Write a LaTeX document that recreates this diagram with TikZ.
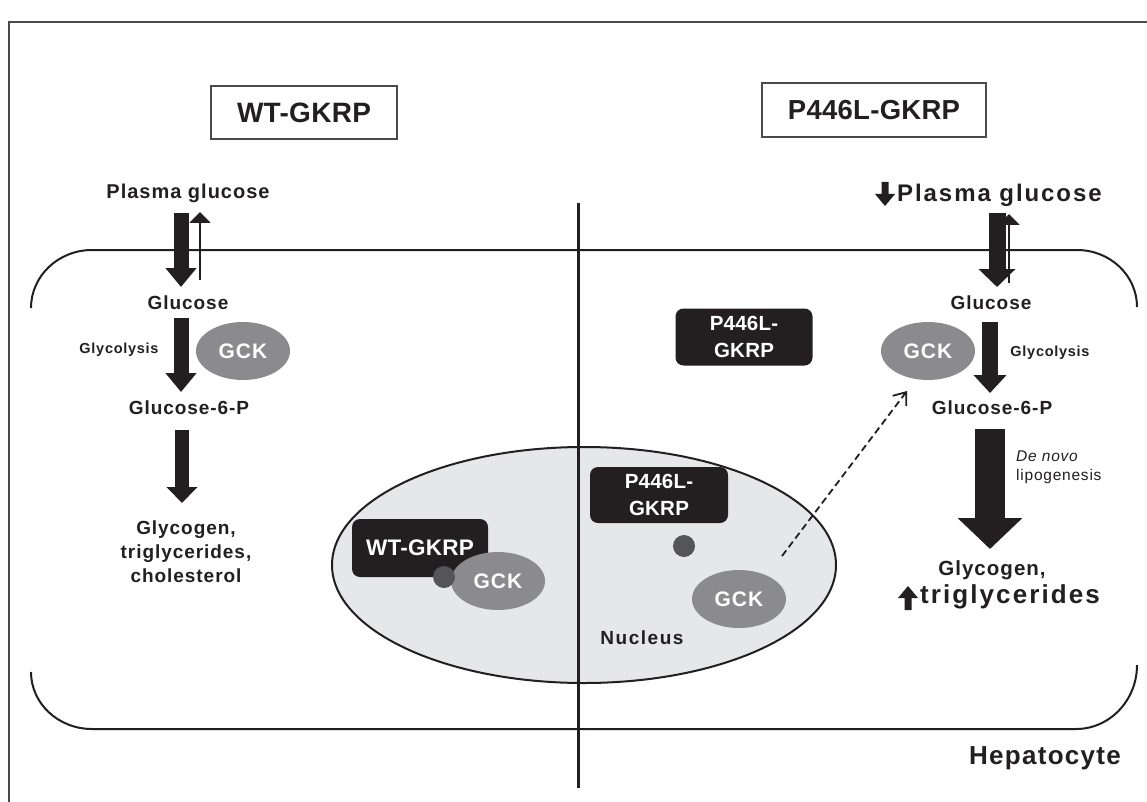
\documentclass[tikz,border=0pt]{standalone}
\usepackage{fontspec}
\setmainfont{Liberation Sans}[LetterSpace=5]
\newfontfamily\tightfont{Liberation Sans}[LetterSpace=1]
\newfontfamily\widefont{Liberation Sans}[LetterSpace=8]
\usetikzlibrary{arrows.meta,shapes.geometric}
\newcommand{\fsz}[2]{\fontsize{#1}{#2}\selectfont}
\definecolor{ink}{HTML}{231F20}
\definecolor{gckgray}{HTML}{8B8B8D}
\definecolor{dotgray}{HTML}{555557}
\definecolor{nucfill}{HTML}{E6E7E8}
\definecolor{framegray}{HTML}{4A4A4A}
\tikzset{
  lbl/.style={text=ink, inner sep=0pt, font=\fsz{19}{24}\bfseries},
  small/.style={text=ink, inner sep=0pt, font=\fsz{14.5}{16}\bfseries},
  gckshape/.style={ellipse, fill=gckgray, minimum width=94pt, minimum height=58pt, inner sep=0pt, text=white, font=\fsz{21}{22}\bfseries},
  blackbox/.style={fill=ink, rounded corners=8pt, minimum width=137pt, minimum height=57pt, inner sep=0pt, text=white, align=center, font=\tightfont\fsz{20.5}{27}\bfseries},
  titlebox/.style={draw=framegray, line width=1.5pt, inner sep=0pt, text=ink, font=\tightfont\fsz{28}{30}\bfseries},
  dotshape/.style={circle, fill=dotgray, minimum size=22pt, inner sep=0pt},
  membrane/.style={draw=ink, line width=2pt},
  fatarrow/.style={draw=ink, line width=#1},
  thinup/.style={draw=ink, line width=2pt, -{Triangle[length=11pt,width=21pt]}},
}
\begin{document}
\begin{tikzpicture}[x=1pt,y=-1pt]
\useasboundingbox (0,0) rectangle (1147,802);
\fill[white] (0,0) rectangle (1147,802);
% frame
\draw[framegray, line width=1.5pt] (9,802) -- (9,22) -- (1147,22);
% title boxes
\node[titlebox, minimum width=186pt, minimum height=53pt] (wt) at (304,112.5) {WT-GKRP};
\node[titlebox, minimum width=224pt, minimum height=54pt, font=\tightfont\fsz{27.5}{30}\bfseries] (mut) at (874,110) {P446L-GKRP};
% membrane
\draw[membrane] (31,308) arc[start angle=180,end angle=270,x radius=61,y radius=58] -- (1077,250) arc[start angle=270,end angle=360,x radius=60,y radius=57];
\draw[membrane] (31,672) arc[start angle=180,end angle=90,x radius=61,y radius=57] -- (1076,729) arc[start angle=90,end angle=0,x radius=61,y radius=64];
% nucleus
\node[ellipse, draw=ink, line width=2pt, fill=nucfill, minimum width=504pt, minimum height=236pt, inner sep=0pt] (nuc) at (584,565) {};
% divider
\coordinate (divtop) at (578,203);
\coordinate (divbot) at (578,788);
\draw[ink, line width=3pt] (divtop) -- (divbot);

% ---------- left column ----------
\node[lbl, font=\fsz{20}{24}\bfseries] (pgL) at (188,193) {Plasma glucose};
\node[lbl] (glucL) at (188,303) {Glucose};
\node[small] (glycL) at (119,350) {Glycolysis};
\node[gckshape] (gckL) at (243,351) {GCK};
\node[lbl] (g6pL) at (189,408) {Glucose-6-P};
\node[lbl, align=center, font=\fsz{19}{24}\bfseries] (prodL) at (186,552) {Glycogen,\\triglycerides,\\cholesterol};

\coordinate (a1s) at (181,213); \coordinate (a1e) at (181,287);
\draw[fatarrow=15pt, -{Triangle[length=19pt,width=30pt]}] (a1s) -- (a1e);
\coordinate (u1s) at (200,280); \coordinate (u1e) at (200,212);
\draw[thinup] (u1s) -- (u1e);
\coordinate (a2s) at (181,318); \coordinate (a2e) at (181,392);
\draw[fatarrow=15pt, -{Triangle[length=19pt,width=30pt]}] (a2s) -- (a2e);
\coordinate (a3s) at (182,430); \coordinate (a3e) at (182,503);
\draw[fatarrow=14pt, -{Triangle[length=16pt,width=30pt]}] (a3s) -- (a3e);

% ---------- nucleus contents ----------
\node[blackbox, minimum width=136pt, minimum height=58pt, font=\tightfont\fsz{22.5}{24}\bfseries] (wtn) at (420,548) {WT-GKRP};
\node[gckshape] (gckN1) at (498,581) {GCK};
\node[dotshape] (dot1) at (444,577) {};
\node[blackbox, minimum width=138pt, minimum height=56pt] (mutn) at (659,495) {P446L-\\GKRP};
\node[dotshape] (dot2) at (684,546) {};
\node[gckshape] (gckN2) at (739,599) {GCK};
\node[lbl, font=\widefont\fsz{19}{20}\bfseries] (nuclbl) at (642,638) {Nucleus};

% ---------- right column ----------
\node[blackbox] (mutc) at (744,337) {P446L-\\GKRP};
\node[lbl, font=\widefont\fsz{24}{26}\bfseries, anchor=west] (pgR) at (897,195) {Plasma glucose};
\fill[ink] (881.5,182) -- (888.5,182) -- (888.5,194) -- (895,194) -- (885,206) -- (875,194) -- (881.5,194) -- cycle;
\node[lbl] (glucR) at (991,303) {Glucose};
\node[small] (glycR) at (1050,353) {Glycolysis};
\node[gckshape] (gckR) at (928,351) {GCK};
\node[lbl] (g6pR) at (992,408) {Glucose-6-P};
\node[text=ink, inner sep=0pt, anchor=west, align=left, font=\fsz{15.5}{19}] (dn) at (1016,467) {\itshape De novo\\lipogenesis};
\node[lbl, font=\fsz{20.5}{24}\bfseries] (glyR) at (992,570) {Glycogen,};
\node[lbl, font=\widefont\fsz{26}{28}\bfseries, anchor=west] (trigR) at (920,597) {triglycerides};
\fill[ink] (904.5,610) -- (911.5,610) -- (911.5,598) -- (918,598) -- (908,586) -- (898,598) -- (904.5,598) -- cycle;

\coordinate (b1s) at (997,213); \coordinate (b1e) at (997,287);
\draw[fatarrow=17pt, -{Triangle[length=18pt,width=36pt]}] (b1s) -- (b1e);
\coordinate (u2s) at (1009,283); \coordinate (u2e) at (1009,214);
\draw[thinup] (u2s) -- (u2e);
\coordinate (b2s) at (990,322); \coordinate (b2e) at (990,393);
\draw[fatarrow=16pt, -{Triangle[length=18pt,width=32pt]}] (b2s) -- (b2e);
\coordinate (b3s) at (990,429); \coordinate (b3e) at (990,549);
\draw[fatarrow=30pt, -{Triangle[length=31pt,width=63pt]}] (b3s) -- (b3e);

% dashed translocation arrow
\coordinate (ds) at (782,556); \coordinate (de) at (907,391);
\draw[ink, line width=1.8pt, dash pattern=on 7pt off 4pt, -{Straight Barb[length=11pt,width=17pt]}] (ds) -- (de);

\node[lbl, font=\fsz{26}{28}\bfseries] (hep) at (1045,758) {Hepatocyte};
\end{tikzpicture}
\end{document}
